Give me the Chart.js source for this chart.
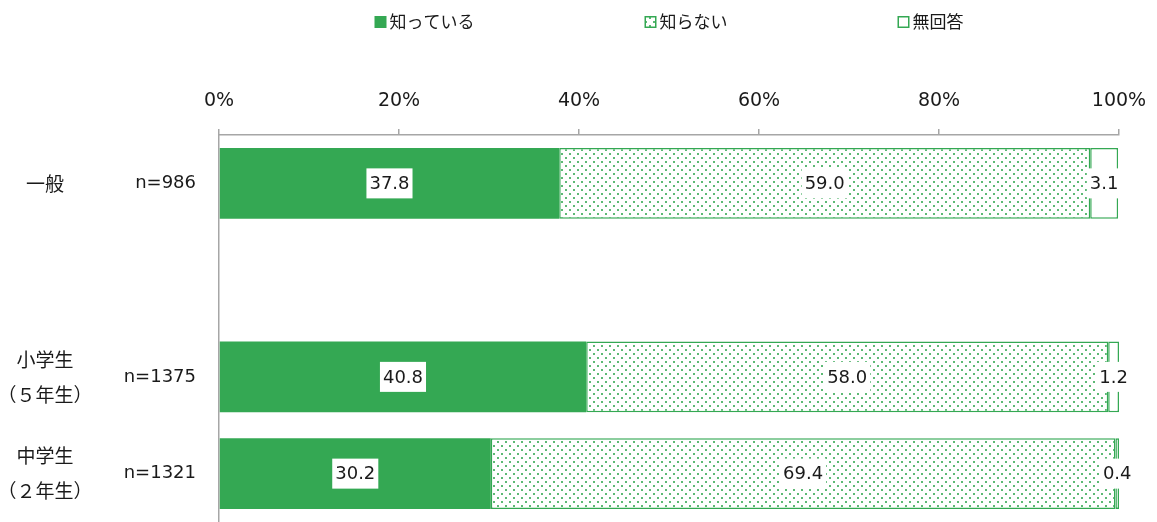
<!DOCTYPE html>
<html>
<head>
<meta charset="utf-8">
<script src="https://cdn.jsdelivr.net/npm/chart.js@4/dist/chart.umd.min.js"></script>
<style>
  html, body { margin: 0; padding: 0; background: #fff; }
  #wrap { width: 1157px; height: 522px; position: relative; }
</style>
</head>
<body>
<div id="wrap"><canvas id="c" width="1157" height="522"></canvas></div>
<script>
// ---- data ----
const groupLabels = [['一般'], [], ['小学生', '（５年生）'], ['中学生', '（２年生）']];
const sampleLabels = ['n=986', '', 'n=1375', 'n=1321'];
const seriesNames = ['知っている', '知らない', '無回答'];
const knowValues = [37.8, null, 40.8, 30.2];
const dontKnowValues = [59.0, null, 58.0, 69.4];
const noAnswerValues = [3.1, null, 1.2, 0.4];
const xTicks = [0, 20, 40, 60, 80, 100];

// ---- styles ----
const GREEN = 'rgb(52,168,83)';
const GRAY = '#a6a6a6';
const TEXT = '#1a1a1a';
const NUM_FONT = '"DejaVu Sans", "Noto Sans CJK JP", sans-serif';
const JP_FONT = '"Noto Sans CJK JP", "DejaVu Sans", sans-serif';

function makeDots() {
  const c = document.createElement('canvas');
  c.width = 8; c.height = 8;
  const g = c.getContext('2d');
  g.fillStyle = '#fff';
  g.fillRect(0, 0, 8, 8);
  g.fillStyle = 'rgba(52,168,83,0.8)';
  g.fillRect(1, 1, 2, 2);
  g.fillRect(5, 5, 2, 2);
  return document.getElementById('c').getContext('2d').createPattern(c, 'repeat');
}
const dots = makeDots();

const legendPlugin = {
  id: 'customLegend',
  afterDraw(chart) {
    const ctx = chart.ctx;
    const area = chart.chartArea;
    ctx.save();
    ctx.font = '17px ' + JP_FONT;
    const box = 12, gapText = 3, gapItem = 170;
    const widths = chart.data.datasets.map(d => box + gapText + ctx.measureText(d.label).width);
    const total = widths.reduce((a, b) => a + b, 0) + gapItem * (widths.length - 1);
    let x = (area.left + area.right) / 2 - total / 2;
    const cy = 21;
    chart.data.datasets.forEach((d, i) => {
      ctx.fillStyle = d.backgroundColor;
      ctx.fillRect(x, cy - box / 2 + 1, box, box);
      if (d.borderWidth) {
        ctx.strokeStyle = d.borderColor;
        ctx.lineWidth = 1.5;
        ctx.strokeRect(x + 0.75, cy - box / 2 + 1.75, box - 1.5, box - 1.5);
      }
      ctx.fillStyle = TEXT;
      ctx.textAlign = 'left';
      ctx.textBaseline = 'middle';
      ctx.fillText(d.label, x + box + gapText, cy + 1);
      x += widths[i] + gapItem;
    });
    ctx.restore();
  }
};

const groupLabelPlugin = {
  id: 'groupLabels',
  afterDraw(chart) {
    const ctx = chart.ctx;
    const y = chart.scales.y;
    ctx.save();
    ctx.font = '19px ' + JP_FONT;
    ctx.fillStyle = TEXT;
    ctx.textAlign = 'center';
    ctx.textBaseline = 'middle';
    groupLabels.forEach((lines, i) => {
      const cy = y.getPixelForValue(i);
      const lh = 35;
      lines.forEach((t, j) => {
        ctx.fillText(t, 45, cy + (j - (lines.length - 1) / 2) * lh);
      });
    });
    ctx.restore();
  }
};

const valueLabelPlugin = {
  id: 'valueLabels',
  afterDatasetsDraw(chart) {
    const ctx = chart.ctx;
    ctx.save();
    ctx.font = '18px ' + NUM_FONT;
    ctx.textAlign = 'center';
    ctx.textBaseline = 'middle';
    chart.data.datasets.forEach((ds, di) => {
      const meta = chart.getDatasetMeta(di);
      meta.data.forEach((el, i) => {
        const v = ds.data[i];
        if (v === null || v === undefined) return;
        const cx = (el.x + el.base) / 2;
        const cy = el.y;
        const t = v.toFixed(1);
        const w = ctx.measureText(t).width + 6;
        const h = 30;
        ctx.fillStyle = '#fff';
        ctx.fillRect(cx - w / 2, cy - h / 2, w, h);
        ctx.fillStyle = TEXT;
        ctx.fillText(t, cx, cy + 1);
      });
    });
    ctx.restore();
  }
};

new Chart(document.getElementById('c'), {
  type: 'bar',
  data: {
    labels: sampleLabels,
    datasets: [
      { label: seriesNames[0], data: knowValues, backgroundColor: GREEN, borderWidth: 0 },
      { label: seriesNames[1], data: dontKnowValues, backgroundColor: dots, borderColor: GREEN, borderWidth: 1.5, borderSkipped: false },
      { label: seriesNames[2], data: noAnswerValues, backgroundColor: '#fff', borderColor: GREEN, borderWidth: 1.5, borderSkipped: false }
    ]
  },
  options: {
    responsive: false,
    animation: false,
    indexAxis: 'y',
    layout: { padding: { left: 0, right: 38, top: 0, bottom: 0 } },
    datasets: { bar: { categoryPercentage: 1, barPercentage: 0.73 } },
    plugins: { legend: { display: false }, tooltip: { enabled: false } },
    scales: {
      x: {
        position: 'top',
        stacked: true,
        min: 0, max: 100,
        afterBuildTicks(s) { s.ticks = xTicks.map(v => ({ value: v })); },
        afterFit(s) { s.height = 135; s.paddingLeft = 0; s.paddingRight = 0; },
        ticks: {
          callback: v => v + '%',
          font: { family: NUM_FONT, size: 19 },
          color: TEXT,
          padding: 17,
          maxRotation: 0
        },
        grid: { drawOnChartArea: false, drawTicks: true, tickLength: 6, color: GRAY, lineWidth: 1.5 },
        border: { display: true, color: GRAY, width: 1.5 }
      },
      y: {
        stacked: true,
        afterFit(s) { s.width = 219; s.paddingTop = 0; s.paddingBottom = 0; },
        ticks: {
          font: { family: NUM_FONT, size: 18 },
          color: TEXT,
          padding: 23
        },
        grid: { display: false, drawTicks: false },
        border: { display: true, color: GRAY, width: 1.5 }
      }
    }
  },
  plugins: [legendPlugin, groupLabelPlugin, valueLabelPlugin]
});
</script>
</body>
</html>
